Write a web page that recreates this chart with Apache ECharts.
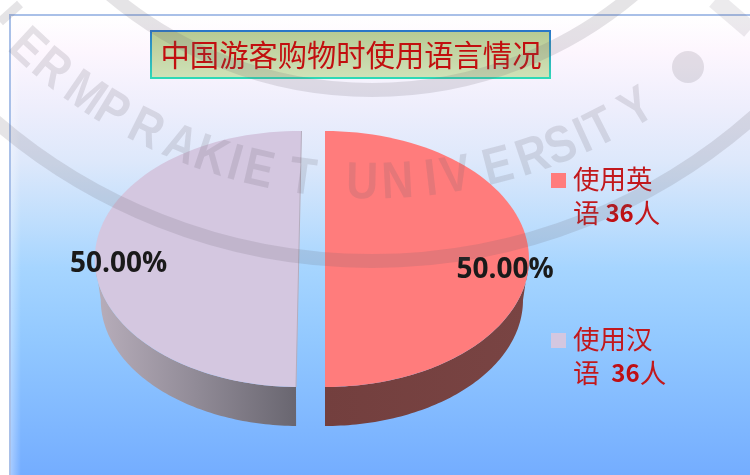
<!DOCTYPE html>
<html>
<head>
<meta charset="utf-8">
<style>
  html, body { margin: 0; padding: 0; background: #fff; }
  #main { width: 750px; height: 475px; }
</style>
<script src="https://cdn.jsdelivr.net/npm/echarts@6/dist/echarts.min.js"></script>
</head>
<body>
<div id="main"></div>
<script>
const chartTitle = '中国游客购物时使用语言情况'
const categories = ['使用英语', '使用汉语']
const personCounts = [36, 36]
const personUnit = '人'
const sliceColors = ['#ff7c7c', '#d4c7e0']

const watermarkLetters = 'ERMPRAKIETUNIVERSITY'.split('')
// degrees from the bottom of the seal
const watermarkAngles = [-42.8, -39.2, -34.5, -30.9, -26.5, -22.2, -18.5, -15.7, -12.9, -7.9,
  -1.1, 2.9, 6.7, 9.5, 14.4, 18.5, 21.9, 24.6, 26.9, 31.5]

const Gradient = echarts.graphic.LinearGradient
const total = personCounts.reduce((a, b) => a + b, 0)
const RAD = Math.PI / 180

// pie drawn as a tilted disc
const slices = [
  { cx: 325, tilt: 0, labelX: 505, labelY: 270 },
  { cx: 298.75, tilt: 0.77, labelX: 118.5, labelY: 264 }
]
const cy = 259, rx = 204, ry = 128
const baseCy = 300, baseRx = 198, baseRy = 126
const wallFills = [
  new Gradient(325, 0, 528, 0, [
    { offset: 0, color: '#733f3e' }, { offset: 1, color: '#794443' }
  ], true),
  new Gradient(95, 0, 296, 0, [
    { offset: 0, color: '#b8aebb' }, { offset: 0.5, color: '#918b97' }, { offset: 1, color: '#696670' }
  ], true)
]

function arcPoints(cx, y, a, b, from, to) {
  const pts = []
  for (let i = 0; i <= 80; i++) {
    const t = (from + (to - from) * i / 80) * RAD
    pts.push([cx + a * Math.cos(t), y + b * Math.sin(t)])
  }
  return pts
}

function renderSlice(params, api) {
  const i = params.dataIndex
  const s = slices[i]
  let before = 0
  for (let k = 0; k < i; k++) before += personCounts[k]
  const start = -90 + before / total * 360 + s.tilt
  const end = start + api.value(0) / total * 360
  const top = arcPoints(s.cx, cy, rx, ry, start, end)
  const children = []
  // only the front half of the rim is visible
  const wallFrom = Math.max(start, 0)
  const wallTo = Math.min(end, 180)
  if (wallTo > wallFrom) {
    const upper = arcPoints(s.cx, cy, rx, ry, wallFrom, wallTo)
    const lower = arcPoints(s.cx, baseCy, baseRx, baseRy, wallFrom, wallTo).reverse()
    children.push({
      type: 'polygon',
      shape: { points: upper.concat(lower) },
      style: { fill: wallFills[i] }
    })
  }
  children.push({
    type: 'polygon',
    shape: { points: [[s.cx, cy]].concat(top) },
    style: { fill: sliceColors[i] }
  })
  if (i === 1) {
    children.push({
      type: 'polyline',
      shape: { points: [top[0], top[top.length - 1]] },
      style: { stroke: '#b5adbd', lineWidth: 1, fill: null }
    })
  }
  children.push({
    type: 'text',
    z2: 10,
    style: {
      x: s.labelX,
      y: s.labelY,
      text: (api.value(0) / total * 100).toFixed(2) + '%',
      align: 'center',
      verticalAlign: 'middle',
      fill: '#1a1a1a',
      font: 'bold 28px "Open Sans", "Noto Sans", sans-serif'
    }
  })
  return { type: 'group', children }
}

// background frame, title box, legend and the watermark
const graphics = [
  {
    type: 'rect', z: -2, silent: true,
    shape: { x: 10, y: 15, width: 745, height: 465 },
    style: {
      stroke: '#a9c0e8',
      lineWidth: 2,
      fill: new Gradient(0, 15, 0, 475, [
        { offset: 0, color: '#ffffff' },
        { offset: 0.08, color: '#fdf6fe' },
        { offset: 0.2, color: '#eeeefc' },
        { offset: 0.32, color: '#dde8fb' },
        { offset: 0.45, color: '#bfdefd' },
        { offset: 0.55, color: '#a6d5ff' },
        { offset: 0.7, color: '#93c9ff' },
        { offset: 1, color: '#74adff' }
      ], true)
    }
  },
  {
    type: 'rect', z: -1, silent: true,
    shape: { x: 11, y: 16, width: 10, height: 459 },
    style: {
      fill: new Gradient(11, 0, 21, 0, [
        { offset: 0, color: 'rgba(255,255,255,0.35)' },
        { offset: 1, color: 'rgba(255,255,255,0)' }
      ], true)
    }
  },
  {
    type: 'rect', z: 3, silent: true,
    shape: { x: 151, y: 31, width: 399, height: 47 },
    style: {
      lineWidth: 2,
      stroke: new Gradient(0, 30, 0, 78, [
        { offset: 0, color: '#2a74c8' }, { offset: 1, color: '#2fd9b6' }
      ], true),
      fill: new Gradient(0, 30, 0, 78, [
        { offset: 0, color: '#b6c992' }, { offset: 1, color: '#d0e2b8' }
      ], true)
    }
  },
  {
    type: 'text', z: 4, silent: true,
    style: {
      x: 351, y: 54.5,
      text: chartTitle,
      align: 'center',
      verticalAlign: 'middle',
      fill: '#c20f0f',
      font: '29.3px "Noto Sans CJK SC", sans-serif'
    }
  }
]

const legendTops = [173, 333]
const legendSpacers = [' ', '  ']
categories.forEach((name, i) => {
  const y = legendTops[i]
  graphics.push({
    type: 'rect', z: 5, silent: true,
    shape: { x: 551, y, width: 15, height: 15 },
    style: { fill: sliceColors[i] }
  })
  graphics.push({
    type: 'text', z: 5, silent: true,
    style: {
      x: 573, y: y - 11.5,
      text: '{a|' + name.slice(0, 3) + '}\n{a|' + name.slice(3) + legendSpacers[i] + '}{b|' + personCounts[i] + '}{a|' + personUnit + '}',
      rich: {
        a: { font: '26.5px "Noto Sans CJK SC", sans-serif', fill: '#c2181c', lineHeight: 34.5 },
        b: { font: 'bold 24px "Noto Sans CJK SC", sans-serif', fill: '#bf0f14', lineHeight: 34.5 }
      }
    }
  })
})

const sealX = 372, sealY = -316
const wmColor = 'rgba(100,92,105,0.17)'
watermarkLetters.forEach((ch, i) => {
  const a = watermarkAngles[i] * RAD
  graphics.push({
    type: 'text', z: 100, silent: true,
    x: sealX + 508 * Math.sin(a),
    y: -324 + 508 * Math.cos(a),
    rotation: a,
    scaleY: 1.18,
    style: {
      text: ch,
      align: 'center',
      verticalAlign: 'middle',
      fill: wmColor,
      font: 'bold 44px "Liberation Sans", sans-serif'
    }
  })
})
;[[406, 14], [577, 14]].forEach(([r, w]) => {
  graphics.push({
    type: 'circle', z: 100, silent: true,
    shape: { cx: sealX, cy: sealY, r },
    style: { fill: 'none', stroke: wmColor, lineWidth: w }
  })
})
graphics.push({
  type: 'circle', z: 100, silent: true,
  shape: { cx: 688, cy: 67, r: 16 },
  style: { fill: wmColor }
})
graphics.push({
  type: 'line', z: 100, silent: true,
  shape: { x1: 0, y1: 22, x2: 20, y2: 4 },
  style: { stroke: wmColor, lineWidth: 9 }
})
graphics.push({
  type: 'line', z: 100, silent: true,
  shape: { x1: 715, y1: 0, x2: 750, y2: 30 },
  style: { stroke: 'rgba(100,92,105,0.12)', lineWidth: 18 }
})

const chart = echarts.init(document.getElementById('main'))
chart.setOption({
  animation: false,
  backgroundColor: '#fff',
  graphic: { elements: graphics },
  series: [{
    type: 'custom',
    coordinateSystem: 'none',
    z: 2,
    silent: true,
    renderItem: renderSlice,
    data: personCounts.map((v, i) => ({ name: categories[i], value: [v] }))
  }]
})
</script>
</body>
</html>
